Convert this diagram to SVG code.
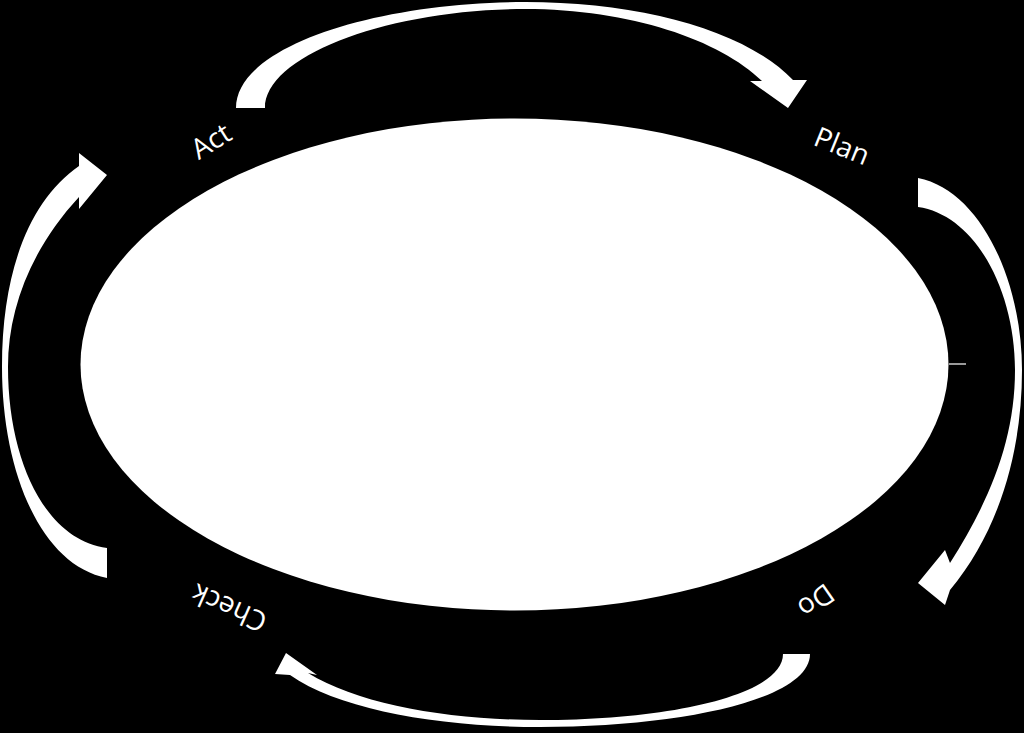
<svg xmlns="http://www.w3.org/2000/svg" width="1024" height="733" viewBox="0 0 1024 733">
<style>
.arrow{fill:#fff;stroke:none}
.lbl{fill:#fff;font-family:"Open Sans","Noto Sans","DejaVu Sans",sans-serif;font-size:28px;text-anchor:middle}
</style>
<rect width="1024" height="733" fill="#000"/>
<g id="center">
<ellipse cx="514.5" cy="364.5" rx="434" ry="246" fill="#fff"/>
<line x1="949" y1="364" x2="966" y2="364" stroke="#fff" stroke-width="1.2"/>
</g>
<g id="connectors">
<path id="act-plan" class="arrow" d="M236,108 C236,45 380,2 525,2 C640,2 745,30 793,80 L807,80 L788,108 L750,81 L762,81 C720,40 630,9 525,9 C390,9 265,55 265,108 Z"/>
<path id="plan-do" class="arrow" d="M918,178 C980,190 1022,280 1022,370 C1022,450 1000,530 950,590 L945,605 L918,583 L945,550 L950,563 C990,500 1015,440 1015,370 C1015,290 975,215 918,207 Z"/>
<path id="do-check" class="arrow" d="M810,654 C810,700 680,727 540,727 C440,727 340,710 290,675 L275,674 L286,653 L317,675 L308,673 C360,705 450,720 540,720 C670,720 783,695 783,654 Z"/>
<path id="check-act" class="arrow" d="M107,578 C40,565 2,470 2,367 C2,270 30,200 79,166 L79,153 L107,175 L79,209 L79,197 C30,250 8,310 8,367 C8,460 45,540 107,548 Z"/>
</g>
<g id="act"><text class="lbl" transform="translate(211,141) rotate(-32)" dy="0.35em">Act</text></g>
<g id="plan"><text class="lbl" transform="translate(842,146) rotate(22)" dy="0.35em">Plan</text></g>
<g id="do"><text class="lbl" transform="translate(816,601) rotate(145)" dy="0.35em">Do</text></g>
<g id="check"><text class="lbl" transform="translate(229,608) rotate(204)" dy="0.35em">Check</text></g>
</svg>
